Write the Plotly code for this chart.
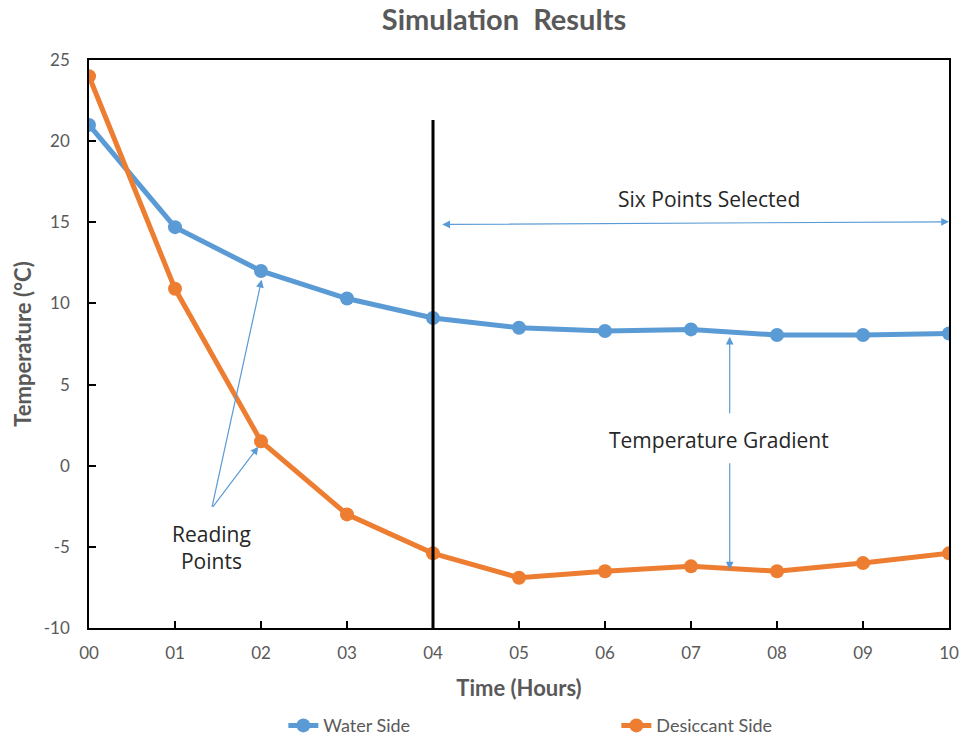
import plotly.graph_objects as go

# Hourly readings
hours = [0, 1, 2, 3, 4, 5, 6, 7, 8, 9, 10]
hour_labels = ["00", "01", "02", "03", "04", "05", "06", "07", "08", "09", "10"]
temp_ticks = [-10, -5, 0, 5, 10, 15, 20, 25]
temp_labels = ["-10", "-5", "0", "5", "10", "15", "20", "25"]
water_side = [21.0, 14.7, 12.0, 10.3, 9.1, 8.5, 8.3, 8.4, 8.05, 8.05, 8.15]
desiccant_side = [24.0, 10.9, 1.5, -3.0, -5.4, -6.9, -6.5, -6.2, -6.5, -6.0, -5.4]

BLUE = "#5B9BD5"
ORANGE = "#ED7D31"
GRAY = "#595959"
TEXT = "#262626"
FONT = "Lato"
NOTE_FONT = "Open Sans"

fig = go.Figure()
fig.add_trace(go.Scatter(
    x=hours, y=water_side, name="Water Side", mode="lines+markers",
    line=dict(color=BLUE, width=5), marker=dict(color=BLUE, size=14),
))
fig.add_trace(go.Scatter(
    x=hours, y=desiccant_side, name="Desiccant Side", mode="lines+markers",
    line=dict(color=ORANGE, width=5), marker=dict(color=ORANGE, size=14),
))

# Divider at hour 04
fig.add_shape(type="line", xref="x", yref="y", x0=4, x1=4, y0=-10, y1=21.3,
              line=dict(color="black", width=3), layer="above")

arrow = dict(showarrow=True, arrowcolor=BLUE, arrowwidth=1.2, arrowhead=2,
             arrowsize=1.3, axref="x", ayref="y", xref="x", yref="y", text="",
             standoff=0, startstandoff=0)
note_font = dict(family=NOTE_FONT, size=21, color=TEXT)

# Six points selected (double-headed)
fig.add_annotation(x=10, y=15.03, ax=4.09, ay=14.87, arrowside="end+start",
                   startarrowhead=2, startarrowsize=1.3, **arrow)
fig.add_annotation(x=7.21, y=16.45, xref="x", yref="y", text="Six Points Selected",
                   showarrow=False, font=note_font)

# Temperature gradient
fig.add_annotation(x=7.45, y=7.95, ax=7.45, ay=3.14, **arrow)
fig.add_annotation(x=7.45, y=-6.4, ax=7.45, ay=0.25, **arrow)
fig.add_annotation(x=7.33, y=1.6, xref="x", yref="y", text="Temperature Gradient",
                   showarrow=False, font=note_font)

# Reading points
fig.add_annotation(x=2.007, y=11.46, ax=1.427, ay=-2.63, **arrow)
fig.add_annotation(x=1.969, y=1.17, ax=1.427, ay=-2.63, **arrow)
fig.add_annotation(x=1.43, y=-5.05, xref="x", yref="y", text="Reading<br>Points",
                   showarrow=False, font=note_font)

axis_common = dict(showline=True, linecolor="black", linewidth=1.5, mirror=True,
                   showgrid=False, zeroline=False, ticks="inside", ticklen=7,
                   tickcolor="black", tickwidth=1.5,
                   tickfont=dict(family=FONT, size=17, color=GRAY))

fig.update_xaxes(range=[0, 10], tickvals=hours, ticktext=hour_labels,
                 ticklabelstandoff=9,
                 title=dict(text="<b>Time (Hours)</b>", standoff=18,
                            font=dict(family=FONT, size=22, color=GRAY)),
                 **axis_common)
fig.update_yaxes(range=[-10, 25], tickvals=temp_ticks, ticktext=temp_labels,
                 ticklabelstandoff=14,
                 title=dict(text="<b>Temperature (°C)</b>", standoff=6,
                            font=dict(family=FONT, size=22, color=GRAY)),
                 **axis_common)

fig.update_layout(
    width=961, height=740,
    margin=dict(l=89, r=12, t=60, b=112, autoexpand=False),
    paper_bgcolor="white", plot_bgcolor="white",
    title=dict(text="<b>Simulation  Results</b>", x=0.4826, xref="paper",
               xanchor="center", y=0.973, yref="container", yanchor="middle",
               font=dict(family=FONT, size=29, color=GRAY)),
    legend=dict(orientation="h", x=0.226, xanchor="left", y=-0.172, yanchor="middle",
                entrywidth=288, entrywidthmode="pixels",
                font=dict(family=FONT, size=18, color=GRAY)),
    showlegend=True,
)

fig.write_html("out.html")
